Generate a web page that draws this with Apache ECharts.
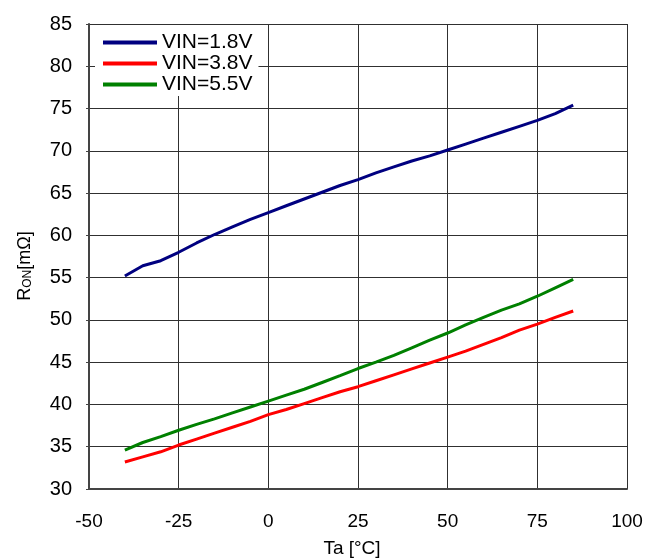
<!DOCTYPE html>
<html>
<head>
<meta charset="utf-8">
<script src="https://cdn.jsdelivr.net/npm/echarts@6/dist/echarts.min.js"></script>
<style>
  html, body { margin: 0; padding: 0; background: #fff; }
  #chart { width: 647px; height: 558px; }
</style>
</head>
<body>
<div id="chart"></div>
<script>
// Ambient temperature (°C)
const temps = [-40, -35, -30, -25, -20, -15, -10, -5, 0, 5, 10, 15, 20, 25, 30, 35, 40, 45, 50, 55, 60, 65, 70, 75, 80, 85];

// On-resistance (mΩ) per supply voltage
const ron18 = [55.2, 56.4, 57.0, 58.0, 59.1, 60.1, 61.0, 61.9, 62.7, 63.5, 64.3, 65.1, 65.9, 66.6, 67.4, 68.1, 68.8, 69.4, 70.1, 70.8, 71.5, 72.2, 72.9, 73.6, 74.4, 75.4];
const ron38 = [33.2, 33.8, 34.4, 35.2, 35.9, 36.6, 37.3, 38.0, 38.8, 39.4, 40.1, 40.8, 41.5, 42.1, 42.8, 43.5, 44.2, 44.9, 45.6, 46.3, 47.1, 47.9, 48.8, 49.5, 50.3, 51.05];
const ron55 = [34.6, 35.5, 36.2, 36.95, 37.65, 38.3, 39.0, 39.7, 40.4, 41.1, 41.8, 42.6, 43.4, 44.25, 45.0, 45.8, 46.7, 47.6, 48.45, 49.4, 50.3, 51.15, 51.9, 52.8, 53.8, 54.8];

const seriesNames = ['VIN=1.8V', 'VIN=3.8V', 'VIN=5.5V'];
const seriesColors = ['#000080', '#ff0000', '#008000'];
const seriesData = [ron18, ron38, ron55];

const FONT = '"Liberation Sans", Arial, sans-serif';

const chart = echarts.init(document.getElementById('chart'), null, { renderer: 'canvas' });

chart.setOption({
  animation: false,
  backgroundColor: '#ffffff',
  textStyle: { fontFamily: FONT },
  grid: { left: 89, right: 20, top: 24, bottom: 69, containLabel: false, outerBoundsMode: 'none' },
  legend: {
    orient: 'vertical',
    left: 95,
    top: 25,
    padding: [7, 6, 1, 8],
    backgroundColor: '#ffffff',
    itemGap: 0,
    itemWidth: 54,
    itemHeight: 4,
    icon: 'rect',
    textStyle: { fontFamily: FONT, fontSize: 21, color: '#000', lineHeight: 20 },
    data: seriesNames
  },
  xAxis: {
    type: 'value',
    min: -50,
    max: 100,
    interval: 25,
    name: 'Ta [°C]',
    nameLocation: 'middle',
    nameGap: 50,
    nameTextStyle: { fontFamily: FONT, fontSize: 19, color: '#000', padding: [0, 12, 0, 0] },
    axisLine: { show: true, onZero: false, lineStyle: { color: '#444', width: 2 } },
    axisTick: { show: false },
    axisLabel: { fontFamily: FONT, fontSize: 19, color: '#000', margin: 23 },
    splitLine: { show: true, lineStyle: { color: '#303030', width: 1 } }
  },
  yAxis: {
    type: 'value',
    min: 30,
    max: 85,
    interval: 5,
    name: 'R{sub|ON}[mΩ]',
    nameLocation: 'middle',
    nameRotate: 90,
    nameGap: 55,
    nameTextStyle: {
      fontFamily: FONT, fontSize: 18, color: '#000', padding: [0, 19, 0, 0],
      rich: { sub: { fontFamily: FONT, fontSize: 12, color: '#000', verticalAlign: 'bottom', padding: [6, 0, 0, 0] } }
    },
    axisLine: { show: true, onZero: false, lineStyle: { color: '#444', width: 2 } },
    axisTick: { show: true, inside: false, length: 3, lineStyle: { color: '#444' } },
    axisLabel: { fontFamily: FONT, fontSize: 20, color: '#000', margin: 17 },
    splitLine: { show: true, lineStyle: { color: '#303030', width: 1 } }
  },
  series: seriesNames.map((name, i) => ({
    name: name,
    type: 'line',
    data: temps.map((t, k) => [t, seriesData[i][k]]),
    showSymbol: false,
    symbol: 'none',
    smooth: false,
    lineStyle: { color: seriesColors[i], width: 3 },
    itemStyle: { color: seriesColors[i] }
  }))
});
</script>
</body>
</html>
